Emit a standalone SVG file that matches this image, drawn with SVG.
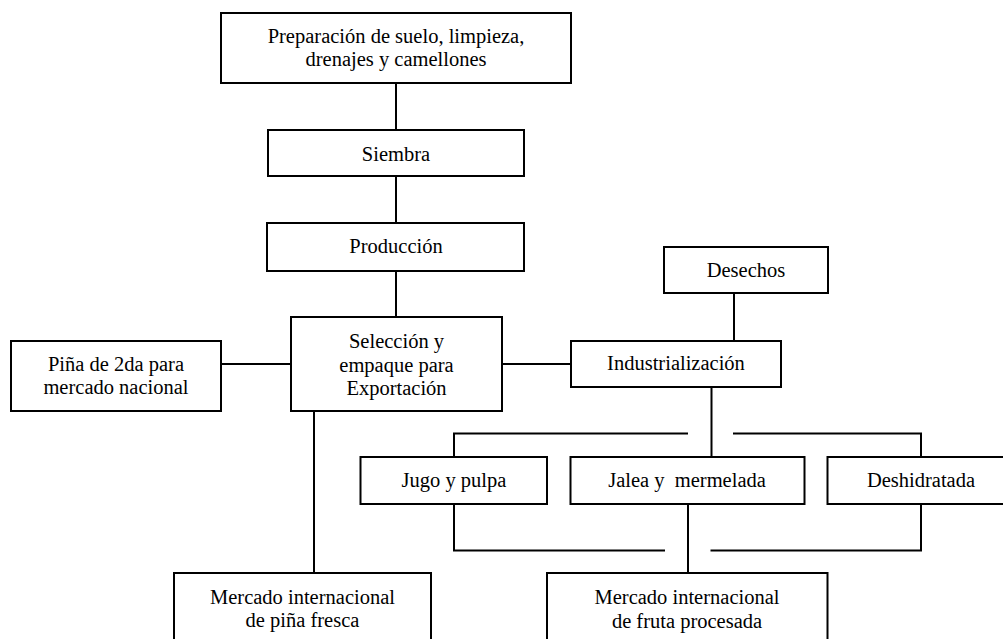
<svg xmlns="http://www.w3.org/2000/svg" width="1003" height="639" viewBox="0 0 1003 639" font-family="'Liberation Serif', 'Times New Roman', 'DejaVu Serif', serif">
<style>
rect.box{fill:#fff;stroke:#000;stroke-width:2}
text{font-family:'Liberation Serif','Times New Roman','DejaVu Serif',serif;font-size:20.5px;fill:#000;text-anchor:middle;white-space:pre}
#connectors path{fill:none;stroke:#000;stroke-width:2}
</style>
<rect width="1003" height="639" fill="#fff"/>
<g id="connectors">
<path d="M396 83V130M396 176V223M396 271V317"/>
<path d="M221 364H291M502 364H571"/>
<path d="M734 293V341"/>
<path d="M314 411V573"/>
<path d="M711.5 387V457"/>
<path d="M454 457V433.5H688M733 433.5H921V457"/>
<path d="M454 504V550.5H665M710.5 550.5H921V504"/>
<path d="M688 504V573"/>
</g>
<g id="preparacion"><rect class="box" x="221" y="13" width="350" height="70"/><text x="396" y="43">Preparación de suelo, limpieza,</text><text x="396" y="66">drenajes y camellones</text></g>
<g id="siembra"><rect class="box" x="268" y="130" width="256" height="46"/><text x="396" y="160.5">Siembra</text></g>
<g id="produccion"><rect class="box" x="267" y="223" width="257" height="48"/><text x="396" y="253">Producción</text></g>
<g id="seleccion"><rect class="box" x="291" y="317" width="211" height="94"/><text x="396.5" y="348">Selección y</text><text x="396.5" y="371.5">empaque para</text><text x="396.5" y="395">Exportación</text></g>
<g id="pina2da"><rect class="box" x="11" y="341" width="210" height="70"/><text x="116" y="370.5">Piña de 2da para</text><text x="116" y="394">mercado nacional</text></g>
<g id="desechos"><rect class="box" x="664" y="247" width="164" height="46"/><text x="746" y="277">Desechos</text></g>
<g id="industrializacion"><rect class="box" x="571" y="341" width="210" height="46"/><text x="676" y="369.5">Industrialización</text></g>
<g id="jugo"><rect class="box" x="360.5" y="457" width="186.5" height="47"/><text x="454" y="487">Jugo y pulpa</text></g>
<g id="jalea"><rect class="box" x="570.5" y="457" width="234" height="47"/><text x="687" y="487" xml:space="preserve">Jalea y  mermelada</text></g>
<g id="deshidratada"><rect class="box" x="827.5" y="457" width="190" height="47"/><text x="921" y="487">Deshidratada</text></g>
<g id="mercado-fresca"><rect class="box" x="174" y="573" width="257" height="80"/><text x="302.5" y="603.5">Mercado internacional</text><text x="302.5" y="627">de piña fresca</text></g>
<g id="mercado-procesada"><rect class="box" x="547" y="573" width="280.5" height="80"/><text x="687" y="604">Mercado internacional</text><text x="687" y="627.5">de fruta procesada</text></g>
</svg>
